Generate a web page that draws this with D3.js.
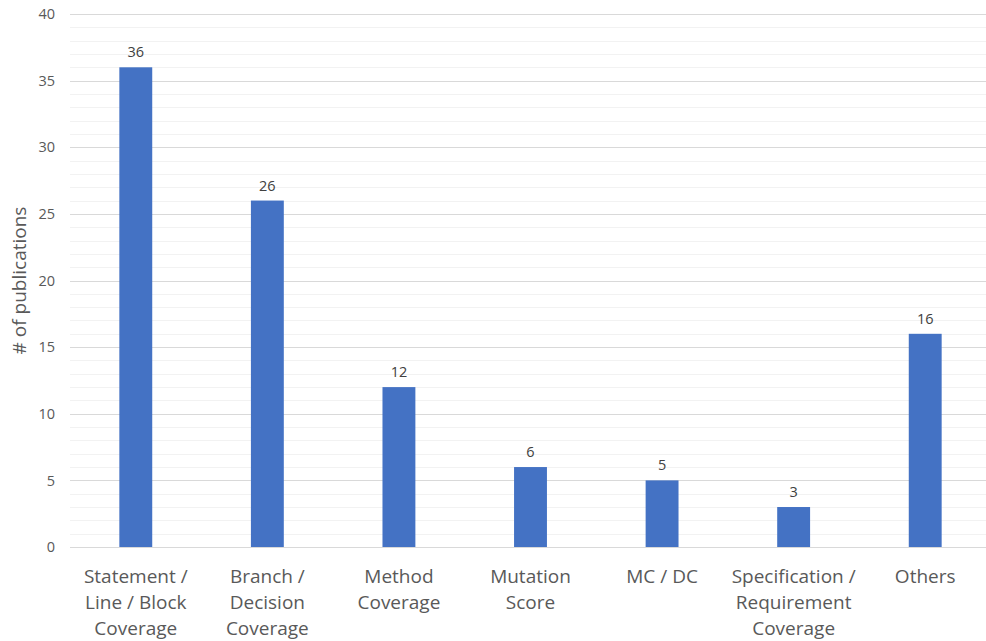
<!DOCTYPE html>
<html>
<head>
<meta charset="utf-8">
<script src="https://cdn.jsdelivr.net/npm/d3@7"></script>
<style>
  html, body { margin: 0; padding: 0; background: #fff; }
  svg { display: block; }
  text { font-family: "Open Sans", "Liberation Sans", sans-serif; }
</style>
</head>
<body>
<svg id="chart" width="986" height="641"></svg>
<script>
// Publications per coverage criterion
const categories = [
  ["Statement /", "Line / Block", "Coverage"],
  ["Branch /", "Decision", "Coverage"],
  ["Method", "Coverage"],
  ["Mutation", "Score"],
  ["MC / DC"],
  ["Specification /", "Requirement", "Coverage"],
  ["Others"]
];
const values = [36, 26, 12, 6, 5, 3, 16];
const majorTicks = [0, 5, 10, 15, 20, 25, 30, 35, 40];
const minorTicks = d3.range(0, 41, 1).filter(v => v % 5 !== 0);
const yTitle = "# of publications";

const svg = d3.select("#chart");
const plotLeft = 70, plotRight = 991, plotTop = 14, plotBottom = 547;

const x = d3.scaleBand()
  .domain(d3.range(categories.length))
  .range([plotLeft, plotRight])
  .paddingInner(0.75)
  .paddingOuter(0.375);

const y = d3.scaleLinear().domain([0, 40]).range([plotBottom, plotTop]);

// minor gridlines
svg.append("g").selectAll("line").data(minorTicks).join("line")
  .attr("x1", plotLeft).attr("x2", 986)
  .attr("y1", d => Math.round(y(d)) + 0.5).attr("y2", d => Math.round(y(d)) + 0.5)
  .attr("stroke", "#f2f2f2").attr("stroke-width", 1);

// major gridlines
svg.append("g").selectAll("line").data(majorTicks).join("line")
  .attr("x1", plotLeft).attr("x2", 986)
  .attr("y1", d => Math.round(y(d)) + 0.5).attr("y2", d => Math.round(y(d)) + 0.5)
  .attr("stroke", "#d9d9d9").attr("stroke-width", 1);

// y axis tick labels
const yAxis = d3.axisLeft(y).tickValues(majorTicks).tickSize(0).tickPadding(0);
const gy = svg.append("g").attr("transform", `translate(${plotLeft - 15},0)`).call(yAxis);
gy.select(".domain").remove();
gy.selectAll("text")
  .attr("fill", "#595959")
  .style("font-size", "14.5px")
  .style("font-family", "\"Open Sans\", \"Liberation Sans\", sans-serif");

// y axis title
svg.append("text")
  .attr("transform", `translate(26,${(plotTop + plotBottom) / 2}) rotate(-90)`)
  .attr("text-anchor", "middle")
  .attr("fill", "#595959")
  .style("font-size", "19px")
  .text(yTitle);

// bars
svg.append("g").selectAll("rect").data(values).join("rect")
  .attr("x", (d, i) => x(i))
  .attr("width", x.bandwidth())
  .attr("y", d => y(d))
  .attr("height", d => y(0) - y(d))
  .attr("fill", "#4472c4");

// value labels
svg.append("g").selectAll("text").data(values).join("text")
  .attr("x", (d, i) => x(i) + x.bandwidth() / 2)
  .attr("y", d => y(d) - 10)
  .attr("text-anchor", "middle")
  .attr("fill", "#404040")
  .style("font-size", "14.5px")
  .text(d => d);

// category labels
const xl = svg.append("g").selectAll("text").data(categories).join("text")
  .attr("x", (d, i) => x(i) + x.bandwidth() / 2)
  .attr("y", 583)
  .attr("text-anchor", "middle")
  .attr("fill", "#595959")
  .style("font-size", "19px");
xl.selectAll("tspan").data(d => d).join("tspan")
  .attr("x", function () { return this.parentNode.getAttribute("x"); })
  .attr("dy", (d, j) => j === 0 ? 0 : 26)
  .text(d => d);
</script>
</body>
</html>
